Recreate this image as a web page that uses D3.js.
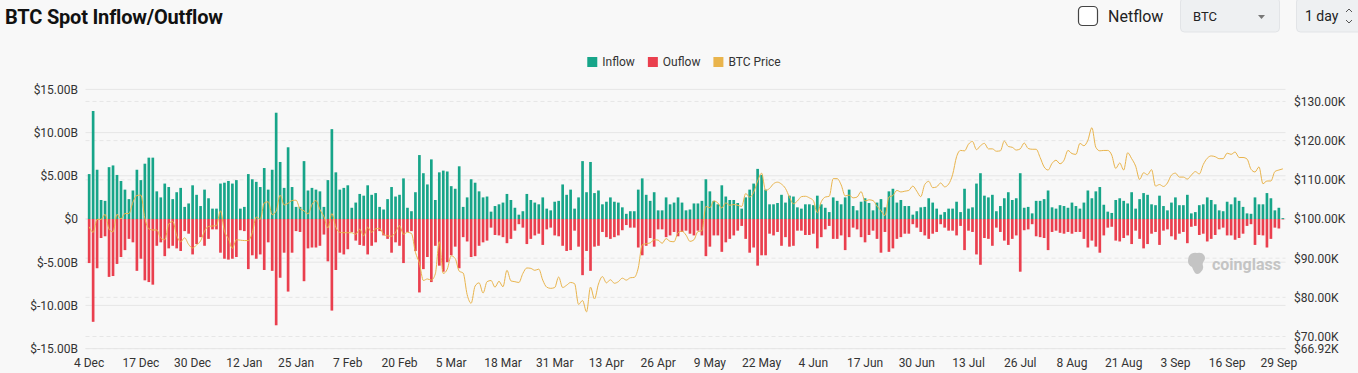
<!DOCTYPE html>
<html>
<head>
<meta charset="utf-8">
<script src="https://cdn.jsdelivr.net/npm/d3@7"></script>
<style>
  html, body { margin: 0; padding: 0; background: #f8f8f8; }
  body { width: 1358px; height: 373px; overflow: hidden; font-family: Roboto, 'Noto Sans', sans-serif; }
  svg { display: block; }
  .axis text { font-size: 12px; fill: #333; font-family: Roboto, sans-serif; }
  .axis .domain { display: none; }
</style>
</head>
<body>
<svg id="chart"></svg>
<script>
// daily values, 4 Dec 2024 .. 30 Sep 2025
const days = d3.timeDay.range(new Date(2024, 11, 4), new Date(2025, 9, 1))

const tickLabels = ['4 Dec', '17 Dec', '30 Dec', '12 Jan', '25 Jan', '7 Feb', '20 Feb', '5 Mar', '18 Mar',
  '31 Mar', '13 Apr', '26 Apr', '9 May', '22 May', '4 Jun', '17 Jun', '30 Jun', '13 Jul', '26 Jul',
  '8 Aug', '21 Aug', '3 Sep', '16 Sep', '29 Sep']

// inflow, $B
const inflow = [
  5.2,12.5,5.7,2.2,2.1,6.0,6.2,5.1,4.4,3.4, 2.3,3.3,5.7,4.5,6.4,7.1,7.1,3.2,2.5,4.1,
  3.7,2.3,3.1,3.6,1.4,1.8,3.9,2.8,1.5,3.4, 2.4,1.2,1.2,4.1,4.2,4.4,4.1,4.5,1.2,1.4,
  5.2,4.6,4.3,3.7,5.9,3.4,5.7,12.3,6.6,
  3.6,8.3,3.7,1.4,1.4,6.7,3.3,3.6,3.4,3.2, 1.4,4.5,10.4,5.4,3.4,3.6,3.9,1.3,1.9,2.9,
  2.7,3.9,2.8,3.0,1.4,1.1,2.3,3.7,2.6,2.8, 4.7,1.3,0.9,3.1,7.4,5.3,4.0,6.9,2.2,5.4,
  5.6,5.5,3.8,3.5,6.1,1.4,2.5,4.6,4.2,3.2, 2.5,
  2.6,0.85,1.5,1.7,1.9,2.9,2.2,1.3,0.5,0.9, 2.9,2.2,1.9,1.7,2.5,1.2,1.0,2.0,2.1,4.0,
  2.8,3.4,1.2,2.5,6.7,3.1,6.6,3.0,3.3,1.7, 2.0,2.5,2.0,1.9,1.35,0.6,0.9,0.9,3.4,4.7,
  2.8,2.1,3.1,1.0,1.0,2.5,1.7,1.9,2.5,1.9,
  1.0,1.1,1.8,1.8,2.1,4.6,3.2,2.1,1.7,3.9, 2.6,2.2,2.2,1.85,1.2,2.5,3.4,4.1,5.8,5.1,
  3.4,1.7,1.7,1.85,2.8,1.9,2.7,2.6,1.35,1.2, 1.7,1.7,1.6,2.7,1.7,1.3,0.8,2.5,2.1,1.7,
  2.5,3.4,1.5,1.0,2.0,2.4,1.85,1.0,1.9,2.3,
  1.35,3.2,3.5,1.9,2.2,1.5,1.5,0.5,0.9,1.35, 1.4,2.4,1.9,1.2,0.5,0.8,1.2,1.2,2.0,0.8,
  3.5,1.2,1.35,4.1,5.3,2.7,2.5,2.8,0.9,1.5, 2.4,3.1,2.2,2.4,5.3,1.3,1.4,0.65,2.1,2.1,
  2.3,3.3,1.35,1.2,1.6,1.5,1.3,1.9,1.5,1.2, 1.9,
  3.3,2.4,3.2,3.7,1.65,0.85,0.7,2.2,2.4,2.1, 1.8,3.1,1.2,2.3,3.0,2.8,1.7,1.6,2.7,1.5,
  1.0,1.9,2.5,1.6,1.6,2.8,0.65,0.8,1.6,1.7, 2.5,2.2,1.7,1.0,0.9,2.0,1.7,2.5,2.1,1.4,
  0.65,0.6,2.5,1.7,1.7,3.0,2.4,1.0,1.3,0.1
]

// outflow, $B (drawn below zero)
const outflow = [
  5.1,11.9,5.7,2.2,2.0,6.7,6.6,5.2,4.4,3.6, 2.3,2.7,6.0,4.6,7.1,7.3,7.6,3.1,2.7,4.3,
  3.4,3.1,3.4,3.7,1.4,1.7,4.1,2.9,2.1,3.1, 2.3,1.2,1.2,3.9,4.6,4.7,4.6,4.4,1.3,1.4,
  5.8,4.2,4.6,4.1,5.9,2.7,6.0,12.3,6.8,
  3.9,8.4,3.9,1.4,1.5,7.2,3.4,3.3,3.3,3.1, 1.8,4.9,10.6,5.9,3.9,4.1,3.5,1.5,2.5,3.0,
  3.1,4.1,3.1,2.7,1.4,1.9,2.3,3.9,2.7,3.1, 5.1,1.5,1.4,3.7,8.5,5.8,4.4,7.3,3.1,5.4,
  6.1,5.0,4.2,3.2,5.7,2.1,2.6,4.4,4.3,3.1, 2.7,
  2.5,1.0,1.85,1.9,2.1,2.8,2.3,1.35,0.6,1.0, 2.9,2.3,1.9,1.7,3.0,1.2,1.0,1.9,2.0,3.1,
  3.7,3.6,1.35,3.2,6.5,3.7,6.0,3.2,3.1,1.5, 2.1,2.3,2.1,1.9,1.3,0.7,1.0,1.0,3.3,4.2,
  3.1,2.2,3.2,1.2,1.2,2.1,1.9,1.5,2.0,1.5,
  1.35,1.7,1.9,1.35,1.9,4.3,3.2,1.9,1.9,3.8, 2.7,2.3,1.9,1.35,0.8,2.3,3.9,3.3,5.4,4.2,
  4.2,1.7,1.9,1.5,3.1,2.1,3.2,3.1,1.35,1.35, 1.85,1.85,1.7,3.4,2.1,1.2,0.8,2.3,2.3,1.9,
  3.6,2.1,1.0,1.2,2.1,2.7,1.85,1.35,2.3,3.9,
  1.5,3.8,3.4,2.3,2.1,1.7,1.7,0.6,1.0,1.5, 1.9,2.3,1.7,1.5,0.6,1.0,1.35,1.35,1.9,0.8,
  3.6,1.35,1.5,4.1,5.3,2.2,2.3,3.1,1.0,1.5, 2.5,3.0,2.3,1.9,6.1,1.3,1.2,0.6,2.0,2.1,
  2.2,3.6,1.5,1.35,1.6,1.7,1.5,1.7,1.5,1.5, 2.3,
  3.3,2.5,3.2,3.9,1.9,1.0,0.9,2.5,2.6,2.2, 1.9,2.9,1.35,2.3,3.4,2.9,1.7,1.5,3.0,1.35,
  1.2,2.0,2.4,1.7,1.5,2.8,0.9,0.8,1.85,1.7, 2.6,2.3,1.85,1.2,1.0,1.9,1.9,2.4,2.2,1.7,
  0.8,0.6,3.0,1.85,1.9,3.3,2.3,1.0,1.1,0.05
]

// BTC price, $K
const price = [
  98.0,96.6,99.9,99.9,101.2,97.4,96.7,101.2,100.0,101.4,101.4,104.3,106.0,106.1,100.2,97.5,97.2,97.2,95.1,94.7,98.7,99.4,95.8,94.2,95.2,93.5,92.6,93.4,
  94.4,96.9,98.1,98.2,98.3,102.1,96.9,95.0,92.5,94.7,94.6,94.5,94.5,96.5,100.5,99.9,104.1,104.4,101.1,102.0,106.1,103.6,104.0,104.7,104.8,102.6,102.1,101.3,103.7,104.7,102.4,
  100.6,97.7,101.4,97.9,96.6,96.5,96.5,96.5,96.1,97.4,95.7,97.9,96.6,97.5,97.6,96.1,95.7,95.6,96.6,98.3,96.1,96.6,96.3,91.5,88.7,84.3,84.7,84.4,
  86.0,94.2,86.1,87.2,90.6,89.9,86.7,86.2,80.7,78.5,82.9,83.7,81.1,84.0,84.3,82.6,84.1,82.7,86.9,84.2,84.0,83.8,86.1,87.5,87.4,86.9,87.2,84.4,82.6,82.3,82.5,
  85.2,82.5,83.1,83.8,83.5,78.2,79.2,76.3,82.6,79.6,83.4,85.3,83.7,84.5,83.6,84.0,84.9,84.4,85.0,85.1,87.5,93.4,93.7,93.9,94.7,94.6,93.8,95.0,94.3,94.2,
  96.5,96.9,95.9,94.3,94.7,96.8,97.0,103.2,102.9,104.6,104.1,102.8,104.1,103.5,103.7,103.5,103.2,106.5,105.6,106.8,109.7,111.7,107.3,107.8,109.0,109.4,108.9,107.8,105.6,103.9,104.6,
  105.7,105.8,105.4,104.7,101.6,104.4,105.6,105.8,110.3,110.3,108.7,105.9,106.1,105.4,105.6,107.0,104.6,104.9,104.7,103.3,102.1,100.9,105.6,106.0,107.3,106.9,107.1,107.3,108.4,107.1,
  105.7,108.8,109.6,108.0,108.2,109.2,108.2,108.9,111.3,115.9,117.5,117.4,119.1,119.8,117.7,118.7,119.3,117.9,117.9,117.3,117.4,119.9,118.5,118.3,117.6,117.9,119.4,118.0,117.8,117.8,115.7,
  113.3,112.5,114.2,115.0,114.1,115.0,117.5,116.7,116.5,119.3,118.7,120.1,123.3,118.3,117.4,117.5,117.5,116.3,112.9,114.3,112.5,116.9,115.4,113.5,110.1,111.8,111.3,112.6,108.4,108.8,108.3,
  109.2,111.2,111.7,110.7,110.7,110.2,111.2,112.1,111.5,113.9,115.5,116.1,115.9,115.4,115.4,116.8,116.5,117.1,115.7,115.7,115.3,112.7,112.0,113.3,109.0,109.7,109.7,112.1,112.5,112.8
]

const flowTicks = [-15, -10, -5, 0, 5, 10, 15]
const priceTicks = [66.92, 70, 80, 90, 100, 110, 120, 130]

const legendItems = [
  { name: 'Inflow', color: '#17a589' },
  { name: 'Ouflow', color: '#ea3f4e' },
  { name: 'BTC Price', color: '#e9b44c' }
]

const width = 1358, height = 373
const plotL = 87.5, plotR = 1284.5, plotT = 89.4, plotB = 348.6

const svg = d3.select('#chart').attr('width', width).attr('height', height)

// header
svg.append('text').attr('x', 5).attr('y', 24)
  .attr('font-size', 20).attr('font-weight', 700).attr('fill', '#111')
  .style('letter-spacing', '-0.2px')
  .text('BTC Spot Inflow/Outflow')

svg.append('rect').attr('x', 1078.5).attr('y', 6.5).attr('width', 19).attr('height', 19).attr('rx', 4)
  .attr('fill', '#fff').attr('stroke', '#444').attr('stroke-width', 1.2)
svg.append('text').attr('x', 1108).attr('y', 22).attr('font-size', 16).attr('fill', '#222').text('Netflow')

svg.append('rect').attr('x', 1180.5).attr('y', -2).attr('width', 99).attr('height', 34).attr('rx', 4)
  .attr('fill', '#eef0f2').attr('stroke', '#e2e4e7')
svg.append('text').attr('x', 1193).attr('y', 21).attr('font-size', 13).attr('fill', '#222').text('BTC')
svg.append('path').attr('d', 'M1258,15 L1265,15 L1261.5,19 Z').attr('fill', '#777')

svg.append('rect').attr('x', 1296.5).attr('y', -2).attr('width', 80).attr('height', 34).attr('rx', 4)
  .attr('fill', '#eef0f2').attr('stroke', '#e2e4e7')
svg.append('text').attr('x', 1305).attr('y', 21).attr('font-size', 14).attr('fill', '#222').text('1 day')
svg.append('path').attr('d', 'M1346,12 L1349,9 L1352,12 M1346,20 L1349,23 L1352,20')
  .attr('fill', 'none').attr('stroke', '#555').attr('stroke-width', 1)

// scales
const x = d3.scaleBand().domain(days).range([plotL, plotR]).paddingInner(0.33).paddingOuter(0.08)
const yL = d3.scaleLinear().domain([-15, 15]).range([plotB, plotT])
const yR = d3.scaleLinear().domain([66.92, 133.08]).range([plotB, plotT])

// grid
svg.append('g').selectAll('line').data(flowTicks).enter().append('line')
  .attr('x1', plotL - 2).attr('x2', plotR + 1)
  .attr('y1', d => yL(d)).attr('y2', d => yL(d))
  .attr('stroke', '#e6e6e6').attr('stroke-width', 1)

svg.append('g').selectAll('line').data(priceTicks).enter().append('line')
  .attr('x1', plotL - 2).attr('x2', plotR + 1)
  .attr('y1', d => yR(d)).attr('y2', d => yR(d))
  .attr('stroke', '#e6e6e6').attr('stroke-width', 1).attr('stroke-dasharray', '4,3')

// watermark
const wm = svg.append('g').attr('fill', '#c4c4c4')
wm.append('path')
  .attr('d', 'M1189,256 q3,-4 8,-3 q5,-1 7,2 q2,3 0,6 q-2,2 -1,5 q1,4 -3,7 q-3,2 -5,0 q-2,-3 -3,-6 q-4,-2 -4,-6 q0,-3 1,-5 Z')
wm.append('text').attr('x', 1212).attr('y', 270).attr('font-size', 16).attr('font-weight', 700)
  .attr('fill', '#c4c4c4').text('coinglass')

// bars
const bw = x.bandwidth()
svg.append('g').selectAll('rect').data(days).enter().append('rect')
  .attr('x', d => x(d)).attr('width', bw)
  .attr('y', (d, i) => yL(inflow[i]))
  .attr('height', (d, i) => yL(0) - yL(inflow[i]))
  .attr('fill', legendItems[0].color)

svg.append('g').selectAll('rect').data(days).enter().append('rect')
  .attr('x', d => x(d)).attr('width', bw)
  .attr('y', yL(0))
  .attr('height', (d, i) => yL(-outflow[i]) - yL(0))
  .attr('fill', legendItems[1].color)

// price line
const line = d3.line()
  .x((d, i) => x(days[i]) + bw / 2)
  .y(d => yR(d))
  .curve(d3.curveMonotoneX)

svg.append('path').datum(price)
  .attr('fill', 'none').attr('stroke', legendItems[2].color).attr('stroke-width', 1)
  .attr('d', line)

// axes
const fmtDay = d3.timeFormat('%-d %b')
const tickDays = days.filter(d => tickLabels.includes(fmtDay(d)))

svg.append('g').attr('class', 'axis').attr('transform', `translate(0,${plotB})`)
  .call(d3.axisBottom(x).tickValues(tickDays).tickFormat(fmtDay).tickSize(0).tickPadding(10))

svg.append('g').attr('class', 'axis').attr('transform', `translate(${plotL - 0.5},0)`)
  .call(d3.axisLeft(yL).tickValues(flowTicks).tickSize(0).tickPadding(9)
    .tickFormat(d => d === 0 ? '$0' : `$${d.toFixed(2)}B`))

svg.append('g').attr('class', 'axis').attr('transform', `translate(${plotR + 0.5},0)`)
  .call(d3.axisRight(yR).tickValues(priceTicks).tickSize(0).tickPadding(9)
    .tickFormat(d => `$${d.toFixed(2)}K`))

// legend
const lg = svg.append('g').attr('font-size', 12)
let lx = 0
legendItems.forEach(it => {
  const g = lg.append('g').attr('transform', `translate(${lx},0)`)
  g.append('rect').attr('x', 0).attr('y', 57).attr('width', 10).attr('height', 10).attr('fill', it.color)
  const t = g.append('text').attr('x', 15).attr('y', 66).attr('fill', '#333').text(it.name)
  lx += 15 + t.node().getComputedTextLength() + 13
})
lg.attr('transform', `translate(${(plotL + plotR) / 2 - (lx - 13) / 2 - 2},0)`)
</script>
</body>
</html>
